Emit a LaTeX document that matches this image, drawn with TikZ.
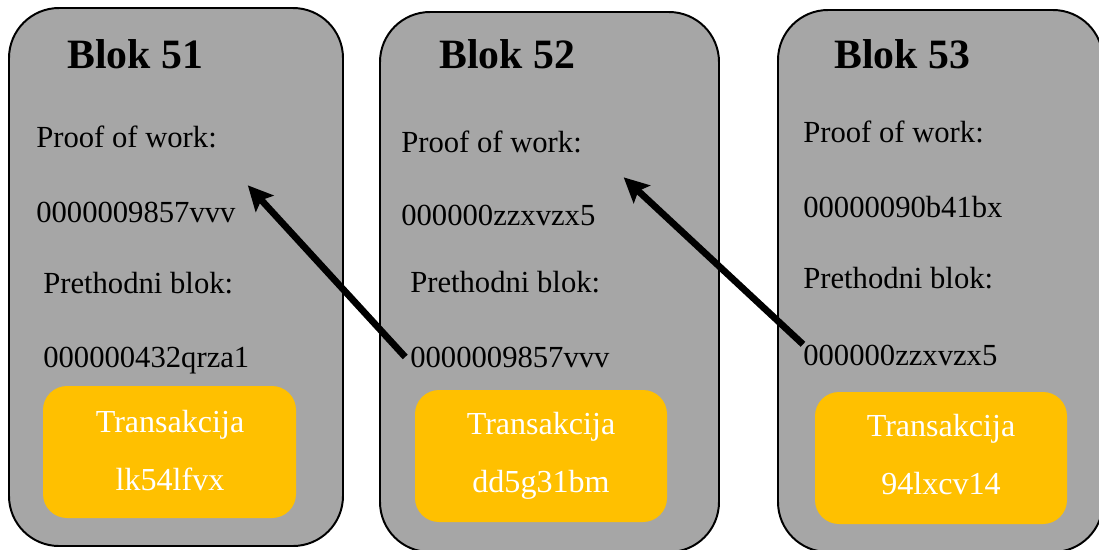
\documentclass[tikz,border=0pt]{standalone}
\usepackage{fontspec}
\setmainfont{Liberation Serif}
\usetikzlibrary{arrows.meta}

\definecolor{blokgray}{HTML}{A6A6A6}
\definecolor{transyellow}{HTML}{FFC000}

\begin{document}
\begin{tikzpicture}[x=0.025cm, y=-0.025cm,
	blok/.style={fill=blokgray, draw=black, line width=1.4pt, rounded corners=1.25cm},
	transbox/.style={fill=transyellow, rounded corners=0.6cm},
	naslov/.style={anchor=base west, inner sep=0pt, font=\fontsize{29.7}{36}\selectfont\bfseries},
	txt/.style={anchor=base west, inner sep=0pt, font=\fontsize{21.8}{26}\selectfont},
	trtxt/.style={anchor=base, inner sep=0pt, text=white, font=\fontsize{22.8}{27}\selectfont},
	veza/.style={line width=4.8pt, -{Stealth[length=0.62cm, width=0.6cm, inset=0.12cm]}}]

	\useasboundingbox (0,0) rectangle (1099,549);

	% blokovi
	\draw[blok] (9,8) rectangle (343,546);
	\draw[blok] (380,12) rectangle (719,552);
	\draw[blok] (778,10) rectangle (1103,552);

	\fill[transbox] (43,386) rectangle (296,518);
	\fill[transbox] (415,390) rectangle (667,522);
	\fill[transbox] (815,392) rectangle (1067,524);

	% blok 51
	\node[naslov] (naslov51) at (67,68) {Blok 51};
	\node[txt] (pw51) at (36,147) {Proof of work:};
	\node[txt] (hash51) at (36,222) {0000009857vvv};
	\node[txt] (pb51) at (43,293) {Prethodni blok:};
	\node[txt] (prev51) at (43,367) {000000432qrza1};
	\node[trtxt] (tr51) at (170,432) {Transakcija};
	\node[trtxt] (id51) at (170,490) {lk54lfvx};

	% blok 52
	\node[naslov] (naslov52) at (439,68) {Blok 52};
	\node[txt] (pw52) at (401,152) {Proof of work:};
	\node[txt] (hash52) at (401,225) {000000zzxvzx5};
	\node[txt] (pb52) at (410,292) {Prethodni blok:};
	\node[txt] (prev52) at (410,367) {0000009857vvv};
	\node[trtxt] (tr52) at (541,434) {Transakcija};
	\node[trtxt] (id52) at (541,492) {dd5g31bm};

	% blok 53
	\node[naslov] (naslov53) at (834,68) {Blok 53};
	\node[txt] (pw53) at (803,142) {Proof of work:};
	\node[txt] (hash53) at (803,217) {00000090b41bx};
	\node[txt] (pb53) at (803,288) {Prethodni blok:};
	\node[txt] (prev53) at (803,365) {000000zzxvzx5};
	\node[trtxt] (tr53) at (941,436) {Transakcija};
	\node[trtxt] (id53) at (941,494) {94lxcv14};

	\coordinate (vrh51) at ([shift={(12,-16)}]hash51.north east);
	\coordinate (vrh52) at ([shift={(28,-27)}]hash52.north east);

	\draw[veza] ([xshift=-0.12cm]prev52.west) -- (vrh51);
	\draw[veza] (prev53.north west) -- (vrh52);

\end{tikzpicture}
\end{document}
